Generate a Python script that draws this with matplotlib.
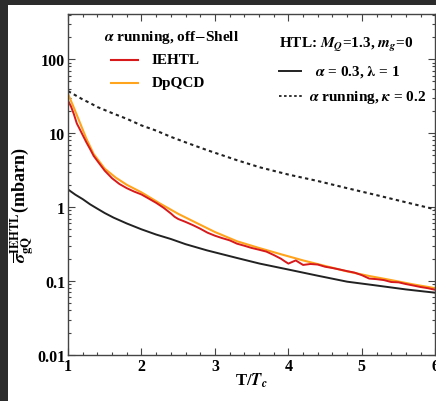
import matplotlib
matplotlib.use("Agg")
import matplotlib.pyplot as plt
from matplotlib.patches import Rectangle
from matplotlib.lines import Line2D
from matplotlib.ticker import FixedLocator, NullFormatter, LogLocator

plt.rcParams['font.family'] = ['Liberation Serif', 'DejaVu Serif']
plt.rcParams['mathtext.fontset'] = 'stix'

# T/Tc grid and cross sections (mbarn)
t_red = [1.0, 1.04, 1.08, 1.12, 1.16, 1.2, 1.25, 1.3, 1.35, 1.4, 1.5, 1.6, 1.7,
         1.8, 1.9, 2.0, 2.1, 2.2, 2.3, 2.4, 2.45, 2.5, 2.6, 2.7, 2.8, 2.9, 3.0,
         3.1, 3.2, 3.3, 3.4, 3.5, 3.6, 3.7, 3.8, 3.9, 3.95, 4.0, 4.1, 4.2, 4.3,
         4.4, 4.5, 4.6, 4.7, 4.8, 4.9, 5.0, 5.1, 5.2, 5.3, 5.4, 5.5, 5.6, 5.7,
         5.8, 5.9, 6.0]
sigma_iehtl = [27.5, 23.0, 18.0, 13.5, 11.3, 9.4, 7.5, 6.1, 4.9, 4.2, 3.1, 2.45,
               2.05, 1.8, 1.62, 1.48, 1.3, 1.14, 0.98, 0.82, 0.74, 0.69, 0.63,
               0.57, 0.51, 0.45, 0.41, 0.38, 0.355, 0.32, 0.30, 0.28, 0.265,
               0.25, 0.225, 0.2, 0.185, 0.172, 0.19, 0.165, 0.17, 0.167, 0.156,
               0.15, 0.143, 0.136, 0.13, 0.12, 0.108, 0.106, 0.103, 0.097,
               0.096, 0.091, 0.087, 0.083, 0.080, 0.076]

t_orange = [1.0, 1.08, 1.16, 1.25, 1.35, 1.5, 1.65, 1.8, 2.0, 2.25, 2.5, 2.75,
            3.0, 3.3, 3.6, 3.9, 4.2, 4.5, 4.8, 5.1, 5.4, 5.7, 6.0]
sigma_dpqcd = [34.0, 22.0, 14.0, 8.4, 5.2, 3.3, 2.5, 2.0, 1.58, 1.12, 0.81,
               0.61, 0.46, 0.345, 0.28, 0.23, 0.19, 0.16, 0.135, 0.117, 0.103,
               0.090, 0.080]

t_htl = [1.0, 1.1, 1.2, 1.3, 1.4, 1.5, 1.62, 1.8, 2.0, 2.2, 2.4, 2.6, 2.89,
         3.3, 3.61, 4.0, 4.4, 4.8, 5.2, 5.6, 6.0]
sigma_fixed = [1.73, 1.47, 1.28, 1.09, 0.95, 0.83, 0.72, 0.60, 0.50, 0.425,
               0.37, 0.315, 0.26, 0.205, 0.172, 0.143, 0.118, 0.098, 0.087,
               0.077, 0.0695]
sigma_running = [37.0, 32.5, 28.5, 25.5, 22.5, 20.5, 18.3, 15.6, 12.7, 10.8,
                 8.9, 7.5, 5.9, 4.3, 3.45, 2.75, 2.25, 1.8, 1.45, 1.16, 0.93]

x_ticks = [1, 2, 3, 4, 5, 6]
y_ticks = [0.01, 0.1, 1, 10, 100]
y_labels = ["0.01", "0.1", "1", "10", "100"]

W, H = 436, 402
fig = plt.figure(figsize=(W / 100, H / 100), dpi=100)
fig.patch.set_facecolor('#2c2c2c')
fig.patches.append(Rectangle((8 / W, 0), 1, 1 - 6 / H, transform=fig.transFigure,
                             facecolor='white', edgecolor='none', zorder=-10))

ax = fig.add_axes([68 / W, 1 - 356 / H, (435.3 - 68) / W, (356 - 15) / H])
ax.set_yscale('log')
ax.set_xlim(1, 6)
ax.set_ylim(0.01, 10 ** 2.61)

ax.plot(t_htl, sigma_running, color='#222222', lw=1.5, ls=(0, (1.6, 1.6)))
ax.plot(t_htl, sigma_fixed, color='#222222', lw=1.4)
ax.plot(t_orange, sigma_dpqcd, color='#ffa41c', lw=1.5)
ax.plot(t_red, sigma_iehtl, color='#d7191c', lw=1.4)

for s in ax.spines.values():
    s.set_color('#444444')
    s.set_linewidth(1.0)

ax.set_xticks(x_ticks)
ax.set_xticklabels([str(v) for v in x_ticks])
ax.xaxis.set_minor_locator(FixedLocator([1 + 0.2 * i for i in range(26)]))
ax.set_yticks(y_ticks)
ax.set_yticklabels(y_labels)
ax.yaxis.set_minor_locator(LogLocator(base=10, subs=range(2, 10), numticks=20))
ax.yaxis.set_minor_formatter(NullFormatter())
ax.tick_params(which='both', direction='in', top=True, right=True,
               color='#444444', width=0.8)
ax.tick_params(which='major', length=5, labelsize=11.5, pad=2)
ax.tick_params(which='minor', length=2.5)
for lab in ax.get_xticklabels() + ax.get_yticklabels():
    lab.set_fontweight('bold')

ax.set_xlabel(r'T/$\mathbfit{T_c}$', fontsize=12, fontweight='bold', labelpad=-2)
fig.text(22 / W, 1 - 205 / H,
         r'$\mathbfit{\overline{\sigma}}_{\mathbf{gQ}}^{\mathbf{IEHTL}}$(mbarn)',
         rotation=90, ha='center', va='center', fontsize=13, fontweight='bold')

def fx(px):
    return px / W

def fy(py):
    return 1 - py / H

# left legend block
fig.text(fx(171), fy(38), r'$\mathbfit{\alpha}$ running, off$-$Shell',
         ha='center', va='center', fontsize=11, fontweight='bold')
fig.lines.append(Line2D([fx(111), fx(138)], [fy(61), fy(61)], color='#d7191c',
                        lw=1.5, transform=fig.transFigure))
fig.text(fx(152), fy(61), 'IEHTL', ha='left', va='center', fontsize=11,
         fontweight='bold')
fig.lines.append(Line2D([fx(111), fx(138)], [fy(84), fy(84)], color='#ffa41c',
                        lw=1.5, transform=fig.transFigure))
fig.text(fx(152), fy(84), 'DpQCD', ha='left', va='center', fontsize=11,
         fontweight='bold')

# right legend block
fig.text(fx(279), fy(45),
         r'HTL: $\mathbfit{M_Q}$=1.3, $\mathbfit{m_g}$=0',
         ha='left', va='center', fontsize=11, fontweight='bold')
fig.lines.append(Line2D([fx(279), fx(301)], [fy(72), fy(72)], color='#222222',
                        lw=1.4, transform=fig.transFigure))
fig.text(fx(315), fy(72), r'$\mathbfit{\alpha}$ = 0.3, $\mathbf{\lambda}$ = 1',
         ha='left', va='center', fontsize=11, fontweight='bold')
fig.lines.append(Line2D([fx(279), fx(303)], [fy(97), fy(97)], color='#222222',
                        lw=1.3, ls=(0, (1.4, 1.4)), transform=fig.transFigure))
fig.text(fx(309), fy(97), r'$\mathbfit{\alpha}$ running, $\mathbfit{\kappa}$ = 0.2',
         ha='left', va='center', fontsize=11, fontweight='bold')

fig.savefig('out.png', dpi=100, facecolor=fig.get_facecolor())
